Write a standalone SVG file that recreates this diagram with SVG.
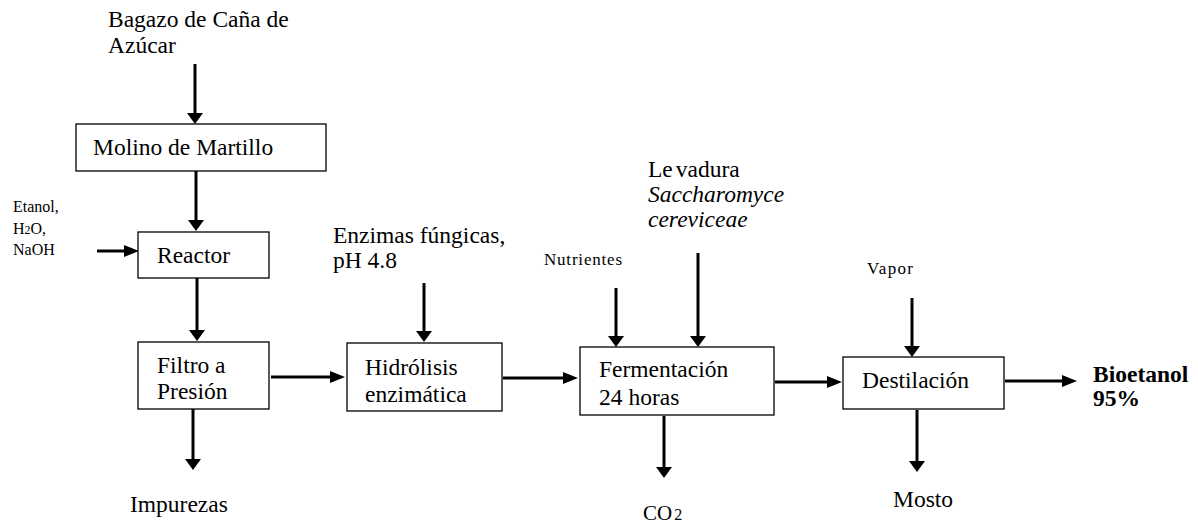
<svg xmlns="http://www.w3.org/2000/svg" width="1198" height="525" viewBox="0 0 1198 525">
  <style>
    text { font-family: "Liberation Serif", "Times New Roman", serif; fill: #000; }
    .t { font-size: 23.5px; }
    .s { font-size: 16px; }
    .xs { font-size: 17px; }
    .it { font-style: italic; }
    .b { font-weight: bold; }
    .box { fill: #fff; stroke: #000; stroke-width: 1.3; }
    .flow { fill: none; stroke: #000; stroke-width: 3; }
  </style>
  <defs>
    <!-- arrowhead for vertical flows: short and wide -->
    <marker id="arrV" viewBox="0 0 11 16" refX="1" refY="8" markerWidth="11" markerHeight="16" markerUnits="userSpaceOnUse" orient="auto">
      <path d="M0,0 L11,8 L0,16 z" fill="#000"/>
    </marker>
    <!-- arrowhead for horizontal flows: longer and narrower -->
    <marker id="arrH" viewBox="0 0 15 12" refX="1" refY="6" markerWidth="15" markerHeight="12" markerUnits="userSpaceOnUse" orient="auto">
      <path d="M0,0 L15,6 L0,12 z" fill="#000"/>
    </marker>
  </defs>

  <!-- connectors -->
  <g id="connectors">
    <line class="flow" x1="195" y1="64" x2="195" y2="114" marker-end="url(#arrV)"/>
    <line class="flow" x1="196" y1="171" x2="196" y2="221" marker-end="url(#arrV)"/>
    <line class="flow" x1="97" y1="251" x2="125" y2="251" marker-end="url(#arrH)"/>
    <line class="flow" x1="197" y1="278" x2="197" y2="331" marker-end="url(#arrV)"/>
    <line class="flow" x1="193" y1="409" x2="193" y2="460" marker-end="url(#arrV)"/>
    <line class="flow" x1="271" y1="377" x2="331" y2="377" marker-end="url(#arrH)"/>
    <line class="flow" x1="424" y1="283" x2="424" y2="332" marker-end="url(#arrV)"/>
    <line class="flow" x1="503" y1="378" x2="564" y2="378" marker-end="url(#arrH)"/>
    <line class="flow" x1="616" y1="288" x2="616" y2="337" marker-end="url(#arrV)"/>
    <line class="flow" x1="698" y1="253" x2="698" y2="337" marker-end="url(#arrV)"/>
    <line class="flow" x1="664" y1="416" x2="664" y2="468" marker-end="url(#arrV)"/>
    <line class="flow" x1="775" y1="382" x2="828" y2="382" marker-end="url(#arrH)"/>
    <line class="flow" x1="912" y1="298" x2="912" y2="347" marker-end="url(#arrV)"/>
    <line class="flow" x1="917" y1="410" x2="917" y2="462" marker-end="url(#arrV)"/>
    <line class="flow" x1="1005" y1="381" x2="1063" y2="381" marker-end="url(#arrH)"/>
  </g>

  <!-- feed and product labels -->
  <g id="bagazo">
    <text class="t" x="108" y="27">Bagazo de Caña de</text>
    <text class="t" x="108" y="53">Azúcar</text>
  </g>
  <g id="reactivos">
    <text class="s" x="13" y="212">Etanol,</text>
    <text class="s" x="13" y="234">H<tspan font-size="12">2</tspan>O,</text>
    <text class="s" x="13" y="255">NaOH</text>
  </g>
  <g id="impurezas">
    <text class="t" x="130" y="512">Impurezas</text>
  </g>
  <g id="enzimas">
    <text class="t" x="333" y="243">Enzimas fúngicas,</text>
    <text class="t" x="333" y="268">pH 4.8</text>
  </g>
  <g id="nutrientes">
    <text class="xs" x="544" y="265" textLength="78">Nutrientes</text>
  </g>
  <g id="levadura">
    <text class="t" x="648" y="177">Le<tspan dx="3">vadura</tspan></text>
    <text class="t it" x="648" y="202">Saccharomyce</text>
    <text class="t it" x="648" y="227">cereviceae</text>
  </g>
  <g id="co2">
    <text x="643" y="520" font-size="21">CO<tspan font-size="16" dx="2">2</tspan></text>
  </g>
  <g id="vapor">
    <text class="xs" x="867" y="274" textLength="46">Vapor</text>
  </g>
  <g id="mosto">
    <text class="t" x="893" y="507">Mosto</text>
  </g>
  <g id="bioetanol">
    <text class="t b" x="1093" y="382">Bioetanol</text>
    <text class="t b" x="1093" y="406">95%</text>
  </g>

  <!-- process units -->
  <g id="molino">
    <rect class="box" x="76" y="124" width="250" height="47"/>
    <text class="t" x="93" y="155">Molino de Martillo</text>
  </g>
  <g id="reactor">
    <rect class="box" x="138" y="232" width="131" height="46"/>
    <text class="t" x="157" y="263">Reactor</text>
  </g>
  <g id="filtro">
    <rect class="box" x="138" y="342" width="131" height="67"/>
    <text class="t" x="157" y="373">Filtro a</text>
    <text class="t" x="157" y="399">Presión</text>
  </g>
  <g id="hidrolisis">
    <rect class="box" x="347" y="343" width="155" height="68"/>
    <text class="t" x="365" y="375">Hidrólisis</text>
    <text class="t" x="365" y="402">enzimática</text>
  </g>
  <g id="fermentacion">
    <rect class="box" x="580" y="347" width="194" height="68"/>
    <text class="t" x="599" y="377">Fermentación</text>
    <text class="t" x="599" y="405">24 horas</text>
  </g>
  <g id="destilacion">
    <rect class="box" x="843" y="357" width="161" height="52"/>
    <text class="t" x="862" y="388">Destilación</text>
  </g>
</svg>
